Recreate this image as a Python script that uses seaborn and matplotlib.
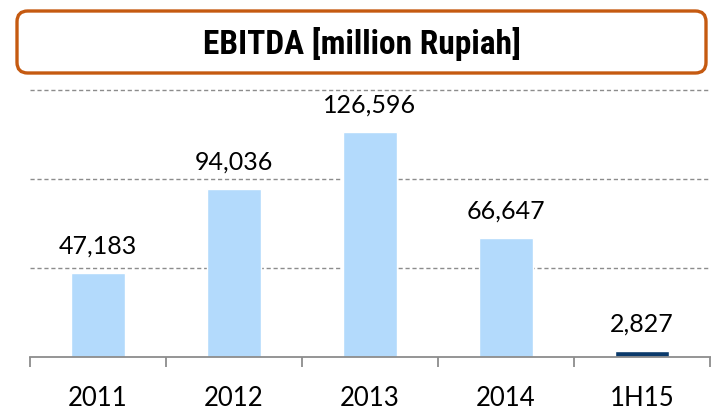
import matplotlib
matplotlib.use("Agg")
import matplotlib.pyplot as plt
from matplotlib import font_manager
from matplotlib.patches import FancyBboxPatch
import seaborn as sns
import pandas as pd

categories = ["2011", "2012", "2013", "2014", "1H15"]
values = [47183, 94036, 126596, 66647, 2827]
value_labels = ["47,183", "94,036", "126,596", "66,647", "2,827"]
bar_colors = ["#B3DAFC", "#B3DAFC", "#B3DAFC", "#B3DAFC", "#0B3A6B"]
title = "EBITDA [million Rupiah]"

sns.set_theme(style="white")
plt.rcParams["font.family"] = ["Lato", "DejaVu Sans"]

names = {f.name for f in font_manager.fontManager.ttflist}
title_font = "DejaVu Sans"
for cand in ["Liberation Sans Narrow", "Roboto Condensed", "DejaVu Sans Condensed", "Open Sans Condensed", "Noto Sans Condensed"]:
    if cand in names:
        title_font = cand
        break

W, H = 711, 411
fig = plt.figure(figsize=(W / 100, H / 100), dpi=100)

axis_y = 356.5
grid_top = 90
ax_top = 84
scale = 150000 / (axis_y - grid_top)
ax = fig.add_axes([30 / W, (H - axis_y) / H, 681 / W, (axis_y - ax_top) / H])

df = pd.DataFrame({"cat": categories, "val": values})
sns.barplot(data=df, x="cat", y="val", hue="cat", palette=bar_colors,
            width=0.4, saturation=1, legend=False, ax=ax)

ax.set_xlim(-0.5, 4.5 + 1 / 136)
ax.set_ylim(0, scale * (axis_y - ax_top))
ax.set_yticks([50000, 100000, 150000])
ax.tick_params(axis="y", left=False, labelleft=False)
ax.yaxis.grid(True, linestyle=(0, (3, 2)), color="#8C8C8C", linewidth=1.0)
ax.xaxis.grid(False)
ax.set_axisbelow(True)
for s in ["top", "right", "left"]:
    ax.spines[s].set_visible(False)
ax.spines["bottom"].set_color("#8C8C8C")
ax.spines["bottom"].set_linewidth(1.3)

ax.set_xticks(range(len(categories)))
ax.set_xticklabels(categories, fontsize=18.5, color="black")
ax.tick_params(axis="x", which="major", length=0, pad=21.5)
ax.set_xticks([i - 0.5 for i in range(len(categories) + 1)], minor=True)
ax.tick_params(axis="x", which="minor", length=7, width=1.3, color="#8C8C8C", bottom=True)
ax.set_xlabel("")
ax.set_ylabel("")

for i, (v, lab) in enumerate(zip(values, value_labels)):
    ax.annotate(lab, (i, v), xytext=(0, 14), textcoords="offset points",
                ha="center", va="baseline", fontsize=18, color="black")

box = FancyBboxPatch((17 / W, (H - 73) / H), 689 / W, 62 / H,
                     boxstyle="round,pad=0,rounding_size=0.015",
                     transform=fig.transFigure, facecolor="white",
                     edgecolor="#C55A11", linewidth=2.4, mutation_aspect=W / H)
fig.patches.append(box)
fig.text(362 / W, (H - 44) / H, title, ha="center", va="center",
         fontsize=24, fontweight="bold", family=[title_font, "DejaVu Sans"], color="black")

fig.savefig("out.png", dpi=100)
